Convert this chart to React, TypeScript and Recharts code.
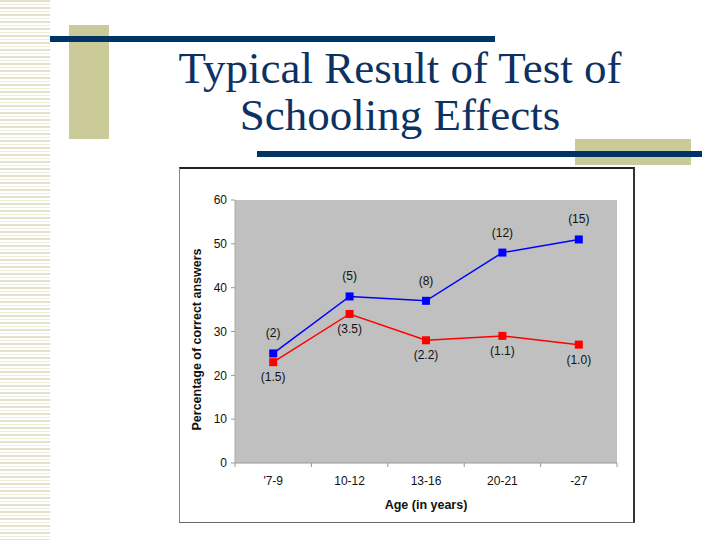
import React from 'react';
import { LineChart, Line, XAxis, YAxis, CartesianGrid, LabelList } from 'recharts';

const ages = ["'7-9", '10-12', '13-16', '20-21', '-27'];
const schooled = [25, 38, 37, 48, 51];
const unschooled = [23, 34, 28, 29, 27];
const schooledN = [2, 5, 8, 12, 15];
const unschooledN = [1.5, 3.5, 2.2, 1.1, 1.0];
const yTicks = [0, 10, 20, 30, 40, 50, 60];

const data = ages.map((age, i) => ({
  age,
  schooled: schooled[i],
  unschooled: unschooled[i],
  schooledN: `(${schooledN[i]})`,
  unschooledN: `(${unschooledN[i].toFixed(1)})`,
}));

const ARIAL = '"Liberation Sans", Arial, sans-serif';
const NAVY = '#003366';
const TAN = '#CBCB9A';
const PLOT_W = 382;
const BAND = PLOT_W / ages.length;

const squareDot = (color: string) => (p: any) => (
  <rect key={p.index} x={p.cx - 4} y={p.cy - 4} width={8} height={8} fill={color} />
);

const AgeTick = (props: any) => {
  const { x, y, payload, index } = props;
  return (
    <g>
      {index === 0 && <line x1={x - BAND / 2} x2={x - BAND / 2} y1={y} y2={y + 4} stroke="#999" />}
      <line x1={x + BAND / 2} x2={x + BAND / 2} y1={y} y2={y + 4} stroke="#999" />
      <text x={x} y={y + 22} textAnchor="middle" fontSize={12} fill="#111" fontFamily={ARIAL}>
        {payload.value}
      </text>
    </g>
  );
};

const aboveLabel = (p: any) => (
  <text key={p.index} x={p.x} y={p.y - 16} textAnchor="middle" fontSize={12} fill="#111" fontFamily={ARIAL}>
    {p.value}
  </text>
);

const belowLabel = (p: any) => (
  <text key={p.index} x={p.x} y={p.y + 19} textAnchor="middle" fontSize={12} fill="#111" fontFamily={ARIAL}>
    {p.value}
  </text>
);

const YTitle = (p: any) => {
  const vb = p.viewBox;
  const cx = vb.x + 18;
  const cy = vb.y + vb.height / 2 + 8;
  return (
    <text
      x={cx}
      y={cy}
      transform={`rotate(-90 ${cx} ${cy})`}
      textAnchor="middle"
      dominantBaseline="central"
      fontSize={12.5}
      fontWeight="bold"
      fill="#111"
      fontFamily={ARIAL}
    >
      Percentage of correct answers
    </text>
  );
};

const App = () => {
  return (
    <div style={{ position: 'absolute', left: 0, top: 0, width: 720, height: 540, background: '#fff', overflow: 'hidden' }}>
      {/* striped strip on the left */}
      <div
        style={{
          position: 'absolute',
          left: 0,
          top: 0,
          width: 50,
          height: 540,
          background: 'repeating-linear-gradient(to bottom, #E3E3CB 0px, #E3E3CB 2px, #fff 2px, #fff 4px, #ECECDA 4px, #ECECDA 5px, #fff 5px, #fff 7px)',
        }}
      />
      <div style={{ position: 'absolute', left: 69, top: 25, width: 40, height: 114, background: TAN }} />
      <div style={{ position: 'absolute', left: 50, top: 36, width: 445, height: 6, background: NAVY }} />
      <div style={{ position: 'absolute', left: 575, top: 139, width: 116, height: 26, background: TAN }} />
      <div style={{ position: 'absolute', left: 257, top: 151, width: 445, height: 6, background: NAVY }} />

      <div
        style={{
          position: 'absolute',
          left: 150,
          top: 45,
          width: 500,
          textAlign: 'center',
          fontFamily: '"Liberation Serif", "Times New Roman", serif',
          fontSize: 45,
          lineHeight: '47px',
          color: '#0D3162',
        }}
      >
        Typical Result of Test of
        <br />
        Schooling Effects
      </div>

      <div style={{ position: 'absolute', left: 179, top: 167, width: 456, height: 356, background: '#fff' }}>
        <LineChart width={456} height={356} data={data} margin={{ top: 33, right: 18, left: 0, bottom: 0 }}>
          <CartesianGrid fill="#C0C0C0" horizontal={false} vertical={false} />
          <XAxis
            dataKey="age"
            height={60}
            padding={{ left: BAND / 2, right: BAND / 2 }}
            axisLine={{ stroke: '#999' }}
            tickLine={false}
            tickSize={0}
            tickMargin={0}
            tick={<AgeTick />}
            interval={0}
            label={{
              value: 'Age (in years)',
              position: 'insideBottom',
              offset: 14,
              fontSize: 12.5,
              fontWeight: 'bold',
              fill: '#111',
              fontFamily: ARIAL,
            }}
          />
          <YAxis
            width={56}
            domain={[0, 60]}
            ticks={yTicks}
            interval={0}
            axisLine={{ stroke: '#aaa' }}
            tickLine={{ stroke: '#999' }}
            tickSize={4}
            tickMargin={4}
            tick={{ fontSize: 12, fill: '#111', fontFamily: ARIAL }}
            label={<YTitle />}
          />
          <Line
            dataKey="schooled"
            stroke="#0000FF"
            strokeWidth={1.5}
            dot={squareDot('#0000FF')}
            activeDot={false}
            isAnimationActive={false}
          >
            <LabelList dataKey="schooledN" content={aboveLabel} />
          </Line>
          <Line
            dataKey="unschooled"
            stroke="#FF0000"
            strokeWidth={1.5}
            dot={squareDot('#FF0000')}
            activeDot={false}
            isAnimationActive={false}
          >
            <LabelList dataKey="unschooledN" content={belowLabel} />
          </Line>
        </LineChart>
      </div>
      <div
        style={{
          position: 'absolute',
          left: 179,
          top: 167,
          width: 456,
          height: 356,
          boxSizing: 'border-box',
          borderTop: '2px solid #222',
          borderRight: '2px solid #333',
          borderBottom: '1px solid #666',
          borderLeft: '1px solid #888',
          pointerEvents: 'none',
        }}
      />
    </div>
  );
};

export default App;
